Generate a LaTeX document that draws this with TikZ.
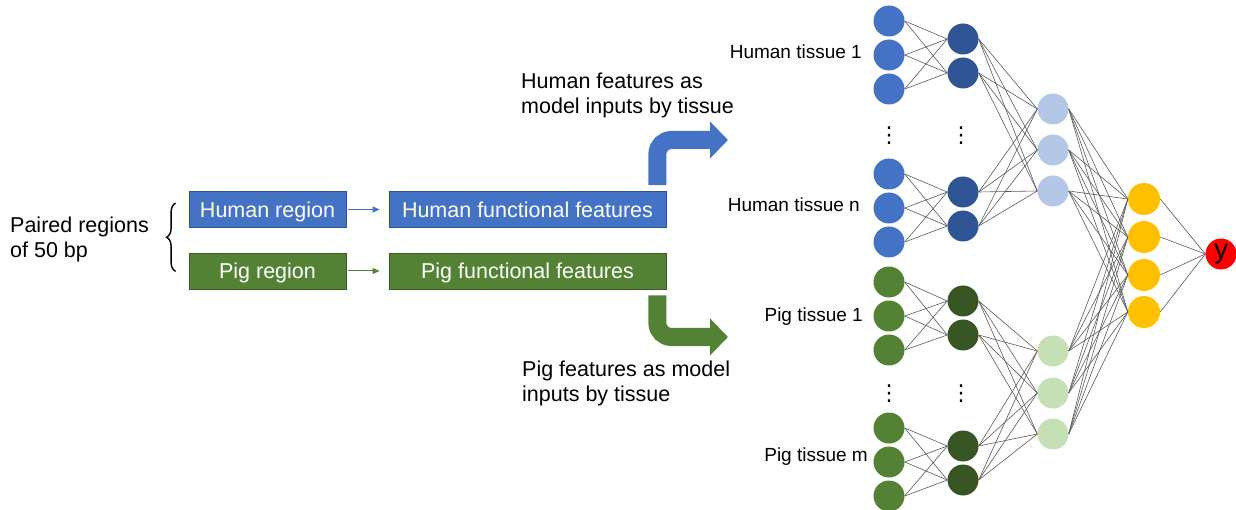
\documentclass[tikz,border=0pt]{standalone}
\usepackage{fontspec}
\setmainfont{Liberation Sans}
\newfontfamily\dotsfont{DejaVu Sans}
\usetikzlibrary{arrows.meta,decorations.pathreplacing,positioning}

\definecolor{hblue}{HTML}{4472C4}
\definecolor{hblueline}{HTML}{2F528F}
\definecolor{hdark}{HTML}{2F5597}
\definecolor{hlight}{HTML}{B4C7E7}
\definecolor{pgreen}{HTML}{548235}
\definecolor{pgreenline}{HTML}{3B5E27}
\definecolor{pdark}{HTML}{375623}
\definecolor{plight}{HTML}{C5E0B4}
\definecolor{hidden}{HTML}{FFC000}
\definecolor{outred}{HTML}{FF0000}

\tikzset{
  txt/.style={font=\fontsize{21.5}{25}\selectfont, inner sep=0pt},
  region/.style={txt, draw=#1line, fill=#1, text=white, minimum height=36pt,
    text height=16pt, text depth=0pt, line width=0.8pt},
  tissue/.style={font=\fontsize{19}{23}\selectfont, inner sep=0pt, anchor=east},
  unit/.style={circle, fill=#1, minimum size=31pt, inner sep=0pt},
  vdots/.style={font=\dotsfont\fontsize{22}{26}\selectfont, inner sep=0pt},
  link/.style={draw=black!65, line width=0.6pt},
  thin arrow/.style={draw=#1, line width=1pt, -{Triangle[length=7pt,width=6pt]}},
  bigarrow/.style={draw=#1, line width=18pt, rounded corners=14pt, -{Triangle[width=36pt,length=18pt]}}
}

\begin{document}
\begin{tikzpicture}[x=1pt, y=-1pt]
  \useasboundingbox (0,0) rectangle (1236,510);

  % input side
  \node[txt, align=left, anchor=west] (paired) at (10,239) {Paired regions\\of 50 bp};
  \node[region=hblue, minimum width=157pt] (hr) at (267.5,209.5) {Human region};
  \node[region=pgreen, minimum width=157pt] (pr) at (267.5,271) {Pig region};
  \node[region=hblue, minimum width=277pt] (hff) at (527.5,209.5) {Human functional features};
  \node[region=pgreen, minimum width=277pt] (pff) at (527.5,271) {Pig functional features};
  \draw[decorate, decoration={brace, amplitude=9pt}, line width=1.4pt]
    ([xshift=-13pt,yshift=18pt]pr.south west) -- ([xshift=-13pt,yshift=-12pt]hr.north west);
  \draw[thin arrow=hblue, shorten <=2pt, shorten >=9pt] (hr) -- (hff);
  \draw[thin arrow=pgreen, shorten <=2pt, shorten >=9pt] (pr) -- (pff);

  % features to the model
  \coordinate (htip) at (728,140);
  \coordinate (ptip) at (728,337);
  \draw[bigarrow=hblue] ([xshift=-9pt,yshift=6pt]hff.north east) |- (htip);
  \draw[bigarrow=pgreen] ([xshift=-9pt,yshift=-6pt]pff.south east) |- (ptip);
  \node[txt, align=left, anchor=west] (hlabel) at (521,95) {Human features as\\model inputs by tissue};
  \node[txt, align=left, anchor=west] (plabel) at (522,383) {Pig features as model\\inputs by tissue};

  % network units
  \foreach \y [count=\i] in {21,55,89,174,208,242}
    \node[unit=hblue] (hi\i) at (889,\y) {};
  \foreach \y [count=\i] in {39,73,192,226}
    \node[unit=hdark] (hd\i) at (963,\y) {};
  \foreach \y [count=\i] in {109,150,191}
    \node[unit=hlight] (hl\i) at (1053,\y) {};
  \foreach \y [count=\i] in {282,316,350,428,462,496}
    \node[unit=pgreen] (pi\i) at (889,\y) {};
  \foreach \y [count=\i] in {301,335,446,480}
    \node[unit=pdark] (pd\i) at (963,\y) {};
  \foreach \y [count=\i] in {351,393,434}
    \node[unit=plight] (pl\i) at (1053,\y) {};
  \foreach \y [count=\i] in {199,237,275,312}
    \node[unit=hidden, minimum size=32pt] (yl\i) at (1144,\y) {};
  \node[unit=outred, font=\fontsize{27}{30}\selectfont] (out) at (1221,254) {y};

  \node[vdots] (hdots1) at (889,136) {⋮};
  \node[vdots] (hdots2) at (961,136) {⋮};
  \node[vdots] (pdots1) at (889,394) {⋮};
  \node[vdots] (pdots2) at (961,394) {⋮};

  \node[tissue] (ht1) at (862,52) {Human tissue 1};
  \node[tissue] (htn) at (860,205) {Human tissue n};
  \node[tissue] (pt1) at (863,317) {Pig tissue 1};
  \node[tissue] (ptm) at (868,457) {Pig tissue m};

  % connections
  \foreach \a in {1,2,3} \foreach \b in {1,2} {
    \draw[link] (hi\a.east) -- (hd\b.west);
    \draw[link] (pi\a.east) -- (pd\b.west);
  }
  \foreach \a in {4,5,6} \foreach \b in {3,4} {
    \draw[link] (hi\a.east) -- (hd\b.west);
    \draw[link] (pi\a.east) -- (pd\b.west);
  }
  \foreach \a in {1,...,4} \foreach \b in {1,2,3} {
    \draw[link] (hd\a.east) -- (hl\b.west);
    \draw[link] (pd\a.east) -- (pl\b.west);
  }
  \foreach \a in {hl1,hl2,hl3,pl1,pl2,pl3} \foreach \b in {1,...,4}
    \draw[link] (\a.east) -- (yl\b.west);
  \foreach \b in {1,...,4}
    \draw[link] (yl\b.east) -- (out.west);
\end{tikzpicture}
\end{document}
